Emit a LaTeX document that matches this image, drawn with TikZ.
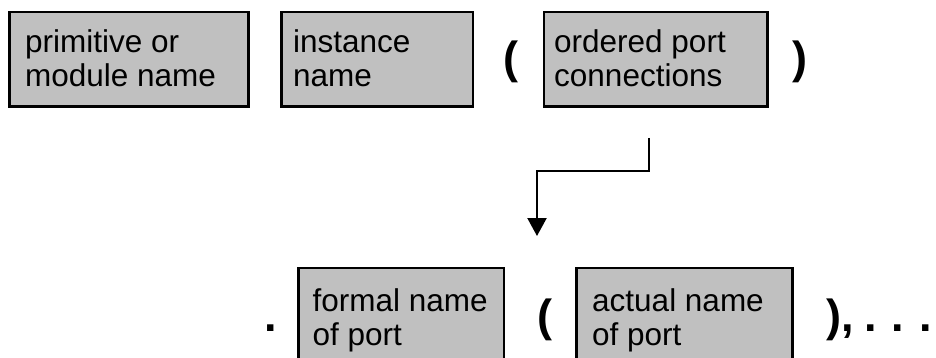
\documentclass[tikz,border=0pt]{standalone}
\usepackage{fontspec}
\setmainfont{Liberation Sans}
\usetikzlibrary{arrows.meta}
\definecolor{boxgray}{HTML}{C0C0C0}
\tikzset{
  box/.style={draw=black, line width=2.5pt, fill=boxgray, rectangle, inner sep=0pt},
  boxtext/.style={anchor=base west, inner sep=0pt, font=\fontsize{31.5}{34}\selectfont},
  punct/.style={anchor=base, inner sep=0pt, font=\fontsize{45}{50}\selectfont\bfseries},
  link/.style={line width=2.2pt, -{Triangle[width=19pt,length=18pt]}},
}
\newcommand{\twolines}[2]{\vtop{\hbox{#1}\hbox{#2}}}
\begin{document}
\begin{tikzpicture}[x=1pt, y=-1pt]
  \useasboundingbox (0,0) rectangle (936,358);
  \clip (0,0) rectangle (936,358);

  % upper row: instantiation syntax
  \node[box, minimum width=239pt,   minimum height=94.3pt] (mod)  at (129,59.15)    {};
  \node[box, minimum width=191.5pt, minimum height=94.3pt] (inst) at (377.05,59.15) {};
  \node[box, minimum width=223.3pt, minimum height=94.3pt] (ports) at (655.65,59.15) {};
  \node[boxtext] (modtxt)   at (25,53)  {\twolines{primitive or}{module name}};
  \node[boxtext] (insttxt)  at (293,53) {\twolines{instance}{name}};
  \node[boxtext] (portstxt) at (554,53) {\twolines{ordered port}{connections}};
  \node[punct] (lpa) at (511,74) {(};
  \node[punct] (rpa) at (800,74) {)};

  % lower row: named port connection
  \node[box, minimum width=205.5pt, minimum height=152pt] (formal) at (401.25,344) {};
  \node[box, minimum width=216.4pt, minimum height=152pt] (actual) at (684.5,344)  {};
  \node[boxtext] (formaltxt) at (312.5,311.5) {\twolines{formal name}{of port}};
  \node[boxtext] (actualtxt) at (592,311.5)   {\twolines{actual name}{of port}};
  \node[punct] (dot) at (270.5,331.5) {.};
  \node[punct] (lpb) at (544.5,331.5) {(};
  \node[punct] (rpb) at (834,331.5) {)};
  \node[punct, anchor=base west] (more) at (841,331.5)
    {,\hspace{10.5pt}.\hspace{15pt}.\hspace{15pt}.};

  % expansion arrow
  \coordinate (from) at (649,138);
  \coordinate (to)   at (537,236);
  \draw[link] (from) -- ++(0,33) -| (to);
\end{tikzpicture}
\end{document}
